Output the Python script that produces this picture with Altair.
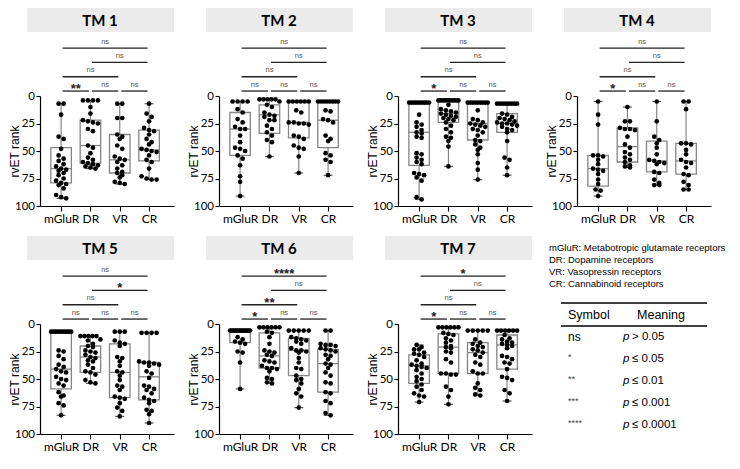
import altair as alt
import pandas as pd

# ---------------- data ----------------
groups = ["mGluR", "DR", "VR", "CR"]
panel_names = ["TM 1", "TM 2", "TM 3", "TM 4", "TM 5", "TM 6", "TM 7"]

# compared pairs (group index from -> to)
pair_from = [0, 1, 2, 0, 1, 0]
pair_to = [1, 2, 3, 2, 3, 3]

tm1_mglur = [7, 7, 17, 37, 39, 48, 54, 57, 59, 62, 64, 66, 67, 68, 70, 72, 75, 77, 79, 80, 81, 84, 90, 92, 93]
tm1_dr = [4, 4, 4, 4, 10, 16, 22, 23, 24, 25, 30, 32, 45, 47, 52, 56, 58, 60, 61, 62, 63, 64, 65, 66]
tm1_vr = [7, 7, 20, 20, 35, 37, 39, 45, 48, 55, 57, 58, 60, 63, 66, 69, 70, 72, 74, 78, 79, 80]
tm1_cr = [7, 16, 19, 23, 29, 31, 32, 35, 39, 42, 44, 48, 49, 50, 51, 54, 58, 60, 66, 73, 75, 76, 76]
tm1_box = [(7, 47, 66, 79, 93), (4, 22, 45, 61, 66), (7, 35, 58, 70, 80), (7, 31, 49, 59, 76)]
tm1_sig = ["**", "ns", "ns", "ns", "ns", "ns"]

tm2_mglur = [5, 5, 5, 5, 12, 15, 21, 24, 28, 30, 30, 36, 42, 47, 48, 50, 54, 57, 63, 73, 78, 91]
tm2_dr = [3, 3, 3, 3, 3, 5, 8, 10, 15, 17, 18, 19, 22, 22, 27, 30, 33, 36, 40, 42, 55]
tm2_vr = [5, 5, 5, 5, 5, 5, 13, 15, 24, 24, 25, 25, 26, 36, 37, 39, 45, 47, 48, 55, 70]
tm2_cr = [5, 5, 5, 5, 5, 5, 5, 5, 13, 14, 21, 22, 24, 36, 39, 41, 52, 54, 58, 60, 72]
tm2_box = [(5, 15, 30, 54, 91), (3, 8, 17, 34, 55), (5, 5, 24, 38, 70), (5, 5, 22, 47, 72)]
tm2_sig = ["ns", "ns", "ns", "ns", "ns", "ns"]

tm3_mglur = [6, 6, 6, 6, 6, 6, 6, 6, 6, 6, 17, 24, 26, 28, 31, 33, 34, 37, 38, 52, 53, 56, 58, 60, 62, 70, 71, 72, 74, 77, 92, 94]
tm3_dr = [4, 4, 4, 4, 4, 4, 4, 4, 4, 4, 8, 12, 13, 14, 15, 16, 17, 18, 19, 20, 21, 22, 24, 27, 30, 33, 37, 38, 41, 46, 64]
tm3_vr = [6, 6, 6, 6, 6, 6, 6, 6, 6, 13, 21, 22, 24, 25, 26, 27, 28, 30, 31, 33, 36, 40, 41, 44, 47, 49, 53, 61, 67, 76]
tm3_cr = [7, 7, 7, 7, 7, 7, 7, 7, 16, 17, 19, 20, 21, 22, 23, 24, 25, 25, 26, 27, 28, 30, 31, 33, 41, 56, 58, 65, 72]
tm3_box = [(6, 6, 33, 63, 94), (4, 4, 16, 24, 64), (6, 6, 25, 40, 76), (7, 16, 25, 33, 72)]
tm3_sig = ["*", "ns", "ns", "ns", "ns", "ns"]

tm4_mglur = [5, 17, 26, 54, 54, 55, 58, 62, 66, 67, 68, 71, 76, 80, 85, 86, 91]
tm4_dr = [10, 23, 23, 29, 30, 30, 31, 37, 44, 47, 51, 53, 56, 58, 60, 63, 64, 65]
tm4_vr = [5, 23, 37, 40, 43, 47, 53, 58, 59, 60, 61, 62, 69, 70, 76, 79, 81, 81]
tm4_cr = [5, 5, 12, 43, 43, 44, 49, 53, 58, 60, 61, 65, 71, 72, 78, 81, 85, 85]
tm4_box = [(5, 54, 66, 82, 91), (10, 29, 46, 60, 65), (5, 41, 59, 69, 81), (5, 43, 59, 71, 85)]
tm4_sig = ["*", "ns", "ns", "ns", "ns", "ns"]

tm5_mglur = [7, 7, 7, 7, 7, 7, 7, 7, 7, 7, 24, 25, 29, 32, 37, 39, 41, 43, 44, 48, 50, 51, 54, 56, 62, 65, 66, 72, 74, 83]
tm5_dr = [11, 11, 11, 11, 11, 14, 15, 18, 20, 21, 24, 25, 26, 28, 30, 31, 33, 34, 37, 40, 43, 44, 46, 51, 53, 54]
tm5_vr = [7, 7, 7, 15, 17, 18, 20, 30, 31, 34, 38, 43, 44, 47, 51, 56, 57, 60, 66, 67, 68, 72, 76, 79, 84]
tm5_cr = [8, 8, 8, 8, 34, 35, 35, 36, 37, 38, 43, 45, 49, 56, 57, 59, 60, 63, 67, 69, 70, 72, 78, 79, 82, 90]
tm5_box = [(7, 7, 41, 59, 83), (11, 20, 30, 44, 54), (7, 18, 44, 67, 84), (8, 35, 48, 69, 90)]
tm5_sig = ["ns", "ns", "ns", "ns", "*", "ns"]

tm6_mglur = [6, 6, 6, 6, 6, 6, 6, 6, 6, 6, 6, 6, 6, 6, 12, 14, 16, 17, 18, 25, 26, 35, 59]
tm6_dr = [3, 3, 3, 3, 3, 3, 7, 8, 12, 18, 24, 25, 26, 28, 29, 33, 34, 35, 38, 40, 40, 41, 43, 49, 50, 53, 54]
tm6_vr = [6, 6, 6, 6, 6, 12, 13, 14, 15, 16, 18, 22, 24, 24, 25, 26, 31, 35, 40, 41, 47, 50, 51, 54, 59, 63, 66, 76]
tm6_cr = [6, 6, 18, 19, 19, 20, 22, 23, 24, 25, 28, 29, 32, 36, 37, 40, 44, 47, 53, 54, 62, 63, 70, 72, 81, 83]
tm6_box = [(6, 6, 6, 17, 59), (3, 8, 29, 40, 54), (6, 13, 24, 47, 76), (6, 23, 36, 62, 83)]
tm6_sig = ["*", "ns", "ns", "**", "ns", "****"]

tm7_mglur = [19, 21, 23, 23, 26, 27, 28, 30, 33, 36, 37, 38, 39, 40, 42, 45, 48, 50, 52, 55, 57, 60, 63, 65, 66, 71]
tm7_dr = [3, 3, 3, 3, 3, 3, 8, 9, 10, 13, 15, 17, 20, 21, 22, 25, 26, 32, 35, 45, 45, 46, 46, 57, 60, 66, 73]
tm7_vr = [6, 6, 6, 6, 6, 14, 17, 18, 20, 21, 23, 24, 26, 28, 30, 35, 37, 43, 45, 45, 54, 58, 60, 64, 65]
tm7_cr = [6, 6, 6, 6, 6, 6, 10, 13, 14, 16, 17, 18, 19, 20, 22, 29, 30, 32, 35, 36, 41, 48, 49, 51, 60, 63, 70]
tm7_box = [(19, 28, 38, 54, 71), (3, 9, 21, 45, 73), (6, 17, 26, 45, 65), (6, 10, 19, 41, 70)]
tm7_sig = ["*", "ns", "ns", "ns", "ns", "*"]

legend_lines = [
    "mGluR: Metabotropic glutamate receptors",
    "DR: Dopamine receptors",
    "VR: Vasopressin receptors",
    "CR: Cannabinoid  receptors",
]
table_symbols = ["ns", "*", "**", "***", "****"]
table_meanings = ["> 0.05", "\u2264 0.05", "\u2264 0.01", "\u2264 0.001", "\u2264 0.0001"]

panels_data = [
    (panel_names[0], [tm1_mglur, tm1_dr, tm1_vr, tm1_cr], tm1_box, tm1_sig),
    (panel_names[1], [tm2_mglur, tm2_dr, tm2_vr, tm2_cr], tm2_box, tm2_sig),
    (panel_names[2], [tm3_mglur, tm3_dr, tm3_vr, tm3_cr], tm3_box, tm3_sig),
    (panel_names[3], [tm4_mglur, tm4_dr, tm4_vr, tm4_cr], tm4_box, tm4_sig),
    (panel_names[4], [tm5_mglur, tm5_dr, tm5_vr, tm5_cr], tm5_box, tm5_sig),
    (panel_names[5], [tm6_mglur, tm6_dr, tm6_vr, tm6_cr], tm6_box, tm6_sig),
    (panel_names[6], [tm7_mglur, tm7_dr, tm7_vr, tm7_cr], tm7_box, tm7_sig),
]

# ---------------- layout / style ----------------
W, H = 134, 198
XDOM = [-0.72, 3.85]
YRANGE = [88, 198]
PXU = W / (XDOM[1] - XDOM[0])        # pixels per category unit
BOX_HALF = 0.35
CAP_HALF = 0.15
DOT_PX = 5.0
SPREAD_PX = 10.0
pair_level = [-4.5, -4.5, -4.5, -17.5, -30.5, -43.5]   # bracket heights (rank units above 0)
GRAY = "#858585"
label_expr = "[" + ",".join("'%s'" % g for g in groups) + "][datum.value]"


def xsc():
    return alt.Scale(domain=XDOM, nice=False, zero=False)


def ysc():
    return alt.Scale(domain=[0, 100], range=YRANGE, nice=False, zero=False)


def x_axis():
    return alt.Axis(values=[0, 1, 2, 3], labelExpr=label_expr, title=None, grid=False,
                    tickSize=5, labelFontSize=12, labelFont="Lato", labelColor="black",
                    domainColor="black", tickColor="black", labelPadding=2,
                    labelFlush=False, labelOverlap=False, domainWidth=1.2, tickWidth=1.1)


def y_axis():
    return alt.Axis(values=[0, 25, 50, 75, 100], title="rvET rank", titleX=-19, grid=False,
                    tickSize=4, labelFontSize=11.5, labelFont="Lato", labelPadding=1.5,
                    labelColor="black", labelFlush=False, domainColor="black",
                    tickColor="black", domainWidth=1.2, tickWidth=1.1,
                    titleFont="Liberation Sans", titleFontSize=12,
                    titleFontWeight="normal", titleColor="black")


def X(field):
    return alt.X(field, scale=xsc(), axis=x_axis())


def Y(field):
    return alt.Y(field, scale=ysc(), axis=y_axis())


def spread(values):
    v = sorted(values)
    out = []
    i = 0
    while i < len(v):
        j = i
        while j + 1 < len(v) and v[j + 1] - v[i] <= 3:
            j += 1
        n = j - i + 1
        if n == 1:
            offs = [0.0]
        else:
            step = min(DOT_PX, 2 * SPREAD_PX / (n - 1))
            offs = [(k - (n - 1) / 2) * step for k in range(n)]
        for k in range(n):
            out.append((v[i + k], offs[k] / PXU))
        i = j + 1
    return out


def make_panel(name, vals, box, sig):
    pts = []
    for gi, g in enumerate(groups):
        for val, off in spread(vals[gi]):
            pts.append({"group": g, "px": gi + off, "rank": val})
    pts = pd.DataFrame(pts)

    bx = pd.DataFrame({
        "gi": list(range(4)),
        "mn": [b[0] for b in box], "p25": [b[1] for b in box], "med": [b[2] for b in box],
        "p75": [b[3] for b in box], "mx": [b[4] for b in box],
    })
    bx["xl"] = bx["gi"] - BOX_HALF
    bx["xr"] = bx["gi"] + BOX_HALF
    bx["cl"] = bx["gi"] - CAP_HALF
    bx["cr"] = bx["gi"] + CAP_HALF

    br = pd.DataFrame({"x1": pair_from, "x2": pair_to, "ly": pair_level, "label": sig})
    br["xm"] = (br["x1"] + br["x2"]) / 2

    hd = pd.DataFrame({"name": [name]})

    whisk = alt.Chart(bx).mark_rule(color=GRAY, strokeWidth=1.2).encode(
        x=X("gi:Q"), y=Y("mn:Q"), y2="mx:Q")
    rect = alt.Chart(bx).mark_rect(fill="white", stroke=GRAY, strokeWidth=1.3).encode(
        x=X("xl:Q"), x2="xr:Q", y=Y("p25:Q"), y2="p75:Q")
    med = alt.Chart(bx).mark_rule(color=GRAY, strokeWidth=1.3).encode(
        x=X("xl:Q"), x2="xr:Q", y=Y("med:Q"))
    cap_lo = alt.Chart(bx).mark_rule(color="#555555", strokeWidth=1.2).encode(
        x=X("cl:Q"), x2="cr:Q", y=Y("mn:Q"))
    cap_hi = alt.Chart(bx).mark_rule(color="#555555", strokeWidth=1.2).encode(
        x=X("cl:Q"), x2="cr:Q", y=Y("mx:Q"))
    dots = alt.Chart(pts).mark_circle(size=22, color="black", opacity=1).encode(
        x=X("px:Q"), y=Y("rank:Q"))
    brk = alt.Chart(br).mark_rule(color="#222222", strokeWidth=1.3, xOffset=1.5, x2Offset=-1.5).encode(
        x=X("x1:Q"), x2="x2:Q", y=Y("ly:Q"))
    ns_t = alt.Chart(br).transform_filter("datum.label == 'ns'").mark_text(
        fontSize=7.5, font="Liberation Sans", color="#555555", baseline="alphabetic", dy=-4.5).encode(
        x=X("xm:Q"), y=Y("ly:Q"), text="label:N")
    st_t = alt.Chart(br).transform_filter("datum.label != 'ns'").mark_text(
        fontSize=13, font="Liberation Sans", fontWeight="bold", color="#222222",
        baseline="alphabetic", dy=2).encode(
        x=X("xm:Q"), y=Y("ly:Q"), text="label:N")
    hbox = alt.Chart(hd).mark_rect(color="#ebebeb").encode(
        x=alt.value(-13), x2=alt.value(W), y=alt.value(0), y2=alt.value(24))
    htxt = alt.Chart(hd).mark_text(font="Lato", fontWeight="bold", fontSize=15,
                                   baseline="middle", align="center", color="black").encode(
        x=alt.value(60), y=alt.value(12.5), text="name:N")
    return alt.layer(whisk, rect, med, cap_lo, cap_hi, dots, brk, ns_t, st_t, hbox, htxt).properties(
        width=W, height=H)


panels = [make_panel(*p) for p in panels_data]

# ---------------- legend / table panel ----------------
leg_df = pd.DataFrame({"i": list(range(len(legend_lines))), "line": legend_lines})
tab_df = pd.DataFrame({"r": list(range(len(table_symbols))), "sym": table_symbols, "mean": table_meanings})
rule_df = pd.DataFrame({"k": [0, 1]})
head_df = pd.DataFrame({"h1": ["Symbol"], "h2": ["Meaning"]})

l_lines = alt.Chart(leg_df).mark_text(align="left", baseline="middle", fontSize=9.5,
                                      font="Liberation Sans", color="black").encode(
    x=alt.value(-28), y=alt.Y("i:Q", scale=alt.Scale(domain=[0, 3], range=[12, 48]), axis=None),
    text="line:N")
l_rules = alt.Chart(rule_df).mark_rule(color="black", strokeWidth=1.5).encode(
    x=alt.value(-16), x2=alt.value(130),
    y=alt.Y("k:Q", scale=alt.Scale(domain=[0, 1], range=[67, 90]), axis=None))
l_h1 = alt.Chart(head_df).mark_text(align="left", baseline="middle", fontSize=12.5,
                                    font="Liberation Sans", color="black").encode(
    x=alt.value(-9), y=alt.value(79), text="h1:N")
l_h2 = alt.Chart(head_df).mark_text(align="center", baseline="middle", fontSize=12.5,
                                    font="Liberation Sans", color="black").encode(
    x=alt.value(84), y=alt.value(79), text="h2:N")
rowsc = alt.Scale(domain=[0, 4], range=[101, 189])
l_ns = alt.Chart(tab_df).transform_filter("datum.sym == 'ns'").mark_text(
    align="left", baseline="middle", fontSize=12, font="Liberation Sans", color="black").encode(
    x=alt.value(-9), y=alt.Y("r:Q", scale=rowsc, axis=None), text="sym:N")
l_st = alt.Chart(tab_df).transform_filter("datum.sym != 'ns'").mark_text(
    align="left", baseline="middle", fontSize=9, font="Liberation Sans", color="#444444", dy=-2).encode(
    x=alt.value(-9), y=alt.Y("r:Q", scale=rowsc, axis=None), text="sym:N")
l_p = alt.Chart(tab_df).mark_text(align="left", baseline="middle", fontSize=11.5,
                                  font="Liberation Sans", fontStyle="italic", color="black").encode(
    x=alt.value(46), y=alt.Y("r:Q", scale=rowsc, axis=None), text=alt.value("p"))
l_m = alt.Chart(tab_df).mark_text(align="left", baseline="middle", fontSize=11.5,
                                  font="Liberation Sans", color="black").encode(
    x=alt.value(55), y=alt.Y("r:Q", scale=rowsc, axis=None), text="mean:N")

legend_panel = alt.layer(l_lines, l_rules, l_h1, l_h2, l_ns, l_st, l_p, l_m).resolve_scale(
    y="independent").properties(width=140, height=H)

chart = alt.concat(*panels, legend_panel, columns=4,
                   spacing={"row": 12, "column": 13}).configure_view(stroke=None).properties(padding=0)

chart.save("out.html", embed_options={"renderer": "svg", "actions": False})
